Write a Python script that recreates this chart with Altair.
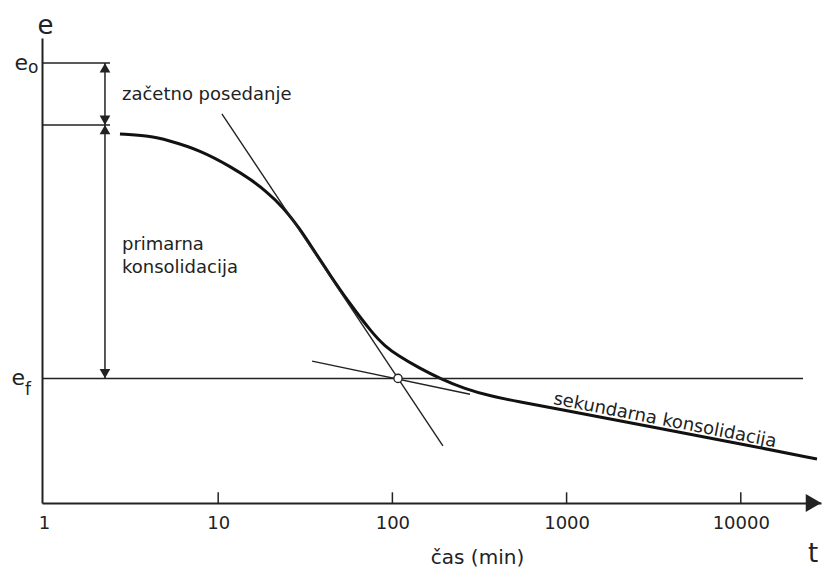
import altair as alt
import pandas as pd

# --- consolidation curve e(t) ---
curve_t = [2.73, 4.06, 5.08, 7.86, 12.16, 15.22, 19.06, 23.55, 29.49, 35.02, 43.83, 54.88,
           77.37, 90.69, 106.3, 144.0, 187.6, 261.1, 363.4, 540.1, 771.8, 2894, 10854, 27379]
curve_e = [79.35, 78.92, 78.06, 75.91, 72.04, 69.68, 66.88, 63.66, 58.92, 54.62, 49.03, 43.66,
           36.34, 33.76, 31.83, 28.92, 26.77, 24.52, 23.01, 21.72, 20.65, 16.56, 12.47, 9.46]

# --- construction (tangent) lines ---
tangent_id = ["primarna", "primarna", "sekundarna", "sekundarna"]
tangent_t = [10.5, 195.0, 34.6, 279.0]
tangent_e = [83.7, 12.3, 30.5, 23.4]

# --- characteristic void ratios and times ---
E0 = 94.6        # e_o
E_PRIM = 81.3    # start of primary consolidation
EF = 26.8        # e_f
T_MIN = 0.974
T_MAX = 28870
T_ARROW = 2.239
T_LEVEL_END = 2.392
T_EF_END = 22756
T_CROSS = 107.7

tick_values = [1, 10, 100, 1000, 10000]
tick_marks = [10, 100, 1000, 10000]

FONT = "DejaVu Sans"
INK = "#222222"

xs = alt.Scale(type="log", domain=[T_MIN, T_MAX], nice=False)
ys = alt.Scale(domain=[0, 100], nice=False, zero=False)

XAXIS = alt.Axis(
    values=tick_values, format="d", title="čas (min)",
    titleX=435, titleY=60, titleAlign="center", titleBaseline="alphabetic",
    titleFont=FONT, titleFontSize=20, titleFontWeight="normal", titleColor=INK,
    labelFont=FONT, labelFontSize=18, labelColor=INK, labelPadding=11,
    labelFlush=False, labelOverlap=False,
    ticks=False, grid=False, domainColor=INK, domainWidth=2)
YAXIS = alt.Axis(
    title="e", titleAngle=0, titleX=3, titleY=-5, titleAlign="center",
    titleBaseline="alphabetic", titleFont=FONT, titleFontSize=26,
    titleFontWeight="normal", titleColor=INK,
    labels=False, ticks=False, grid=False, domainColor=INK, domainWidth=2)


def X(field):
    return alt.X(field, type="quantitative", scale=xs, axis=XAXIS)


def Y(field):
    return alt.Y(field, type="quantitative", scale=ys, axis=YAXIS)


curve_df = pd.DataFrame({"t": curve_t, "e": curve_e})
curve = alt.Chart(curve_df).mark_line(
    color="#111111", strokeWidth=3, interpolate="basis"
).encode(x=X("t"), y=Y("e"))

tan_df = pd.DataFrame({"id": tangent_id, "t": tangent_t, "e": tangent_e})
tangents = alt.Chart(tan_df).mark_line(color=INK, strokeWidth=1.4).encode(
    x=X("t"), y=Y("e"), detail="id:N"
)

levels_df = pd.DataFrame({
    "t1": [T_MIN, T_MIN, T_MIN],
    "t2": [T_LEVEL_END, T_LEVEL_END, T_EF_END],
    "e": [E0, E_PRIM, EF],
})
levels = alt.Chart(levels_df).mark_rule(color=INK, strokeWidth=1.5).encode(
    x=X("t1"), x2="t2", y=Y("e")
)

arrow_df = pd.DataFrame({"t": [T_ARROW], "e1": [E0], "e2": [EF]})
arrow_line = alt.Chart(arrow_df).mark_rule(color=INK, strokeWidth=1.5).encode(
    x=X("t"), y=Y("e1"), y2="e2"
)

heads_up = alt.Chart(pd.DataFrame({"t": [T_ARROW, T_ARROW], "e": [E0, E_PRIM]})).mark_point(
    shape="triangle-up", filled=True, color=INK, size=115, opacity=1, yOffset=4.7
).encode(x=X("t"), y=Y("e"))

heads_down = alt.Chart(pd.DataFrame({"t": [T_ARROW, T_ARROW], "e": [E_PRIM, EF]})).mark_point(
    shape="triangle-down", filled=True, color=INK, size=115, opacity=1, yOffset=-4.7
).encode(x=X("t"), y=Y("e"))

cross = alt.Chart(pd.DataFrame({"t": [T_CROSS], "e": [EF]})).mark_point(
    shape="circle", filled=True, fill="white", stroke=INK, strokeWidth=1.4,
    size=68, opacity=1
).encode(x=X("t"), y=Y("e"))

ticks_df = pd.DataFrame({"t": tick_marks, "e1": [0] * 4, "e2": [2.3] * 4})
ticks = alt.Chart(ticks_df).mark_rule(color=INK, strokeWidth=1.5).encode(
    x=X("t"), y=Y("e1"), y2="e2"
)

axis_arrow = alt.Chart(pd.DataFrame({"t": [T_MAX], "e": [0]})).mark_point(
    shape="triangle-right", filled=True, color=INK, size=320, opacity=1, xOffset=-7.5
).encode(x=X("t"), y=Y("e"))


def label(t, e, text, **kw):
    return alt.Chart(pd.DataFrame({"t": [t], "e": [e], "txt": [text]})).mark_text(
        font=FONT, color=INK, **kw
    ).encode(x=X("t"), y=Y("e"), text="txt:N")


lab_e0 = label(T_MIN, E0, "e", fontSize=22, align="right", baseline="alphabetic", dx=-14, dy=7)
lab_e0_sub = label(T_MIN, E0, "o", fontSize=17, align="left", baseline="alphabetic", dx=-14, dy=10)
lab_ef = label(T_MIN, EF, "e", fontSize=22, align="right", baseline="alphabetic", dx=-17, dy=7)
lab_ef_sub = label(T_MIN, EF, "f", fontSize=17, align="left", baseline="alphabetic", dx=-17, dy=17)
lab_t = label(T_MAX, 0, "t", fontSize=26, align="center", baseline="alphabetic", dx=-8, dy=59)

lab_initial = label(T_ARROW, (E0 + E_PRIM) / 2, "začetno posedanje",
                    fontSize=18, align="left", baseline="alphabetic", dx=17, dy=6)
lab_primary = label(T_ARROW, (E_PRIM + EF) / 2, "primarna\nkonsolidacija",
                    fontSize=18, align="left", baseline="alphabetic", dx=17, dy=-2,
                    lineBreak="\n", lineHeight=23)
lab_secondary = label(curve_t[20], curve_e[20], "sekundarna konsolidacija",
                      fontSize=18, align="left", baseline="alphabetic", dx=5, dy=-4,
                      angle=11)

chart = alt.layer(
    curve, levels, arrow_line, heads_up, heads_down, tangents, cross, ticks, axis_arrow,
    lab_e0, lab_e0_sub, lab_ef, lab_ef_sub, lab_t, lab_initial, lab_primary, lab_secondary,
).properties(
    width=779, height=465,
    autosize=alt.AutoSizeParams(type="none"),
    padding={"left": 42, "top": 38, "right": 1, "bottom": 66},
    background="white",
).configure_view(stroke=None)

chart.save("out.html", embed_options={"renderer": "svg", "actions": False})
